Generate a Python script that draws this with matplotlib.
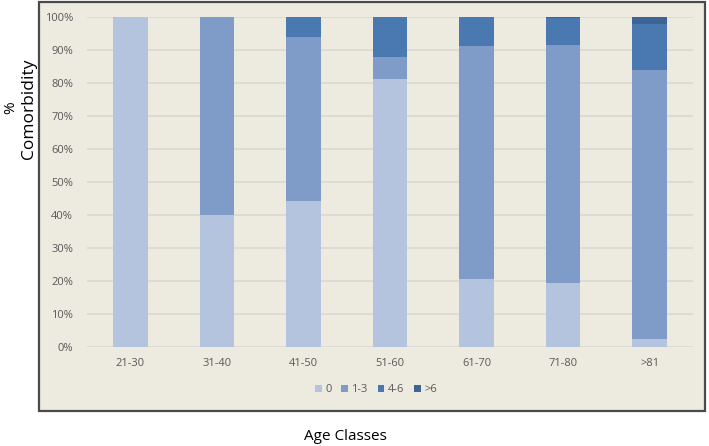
import matplotlib
matplotlib.use("Agg")
import matplotlib.pyplot as plt
from matplotlib.patches import Rectangle
import numpy as np

categories = ["21-30", "31-40", "41-50", "51-60", "61-70", "71-80", ">81"]
s0 = [100.0, 40.0, 44.2, 81.0, 20.5, 19.4, 2.3]
s13 = [0.0, 60.0, 49.6, 6.9, 70.5, 72.0, 81.6]
s46 = [0.0, 0.0, 6.2, 12.1, 9.0, 8.1, 13.8]
s6 = [0.0, 0.0, 0.0, 0.0, 0.0, 0.5, 2.3]
series_names = ["0", "1-3", "4-6", ">6"]
colors = ["#B4C4DF", "#7F9CC8", "#4A78B0", "#3C6497"]
yticks = list(range(0, 101, 10))

plt.rcParams['font.family'] = ['Open Sans', 'DejaVu Sans']

W, H = 709, 446
fig = plt.figure(figsize=(W / 100, H / 100), dpi=100)
fig.patch.set_facecolor("white")

# outer chart box
fig.patches.append(Rectangle((38.5 / W, 1 - 411 / H), (705 - 38.5) / W, (411 - 1.5) / H,
                             transform=fig.transFigure, facecolor="#EDEAE0",
                             edgecolor="#4A4A4A", linewidth=1.6, zorder=-5))

ax = fig.add_axes([87 / W, 1 - 346.7 / H, (693 - 87) / W, (346.7 - 16.7) / H])
ax.set_zorder(2)
ax.set_facecolor("none")
x = np.arange(len(categories))
bottom = np.zeros(len(categories))
for vals, name, c in zip([s0, s13, s46, s6], series_names, colors):
    ax.bar(x, vals, width=0.4, bottom=bottom, color=c, label=name, zorder=3)
    bottom += np.array(vals)

ax.set_xlim(-0.5, len(categories) - 0.5)
ax.set_ylim(0, 100)
ax.set_yticks(yticks)
ax.set_yticklabels([f"{v}%" for v in yticks])
ax.set_xticks(x)
ax.set_xticklabels(categories)
ax.grid(axis="y", color="#DAD8D2", linewidth=1.2, zorder=0)
ax.set_axisbelow(True)
for s in ax.spines.values():
    s.set_visible(False)
ax.tick_params(axis="both", length=0, labelsize=8, colors="#595959")
ax.tick_params(axis="x", pad=8)
ax.tick_params(axis="y", pad=10)

leg = fig.legend(loc="center", bbox_to_anchor=(376 / W, 1 - 390 / H), ncol=4,
                 frameon=False, fontsize=8, handlelength=0.6, handleheight=0.6,
                 handletextpad=0.3, columnspacing=0.9)
leg.set_zorder(3)
for t in leg.get_texts():
    t.set_color("#595959")

fig.text(11 / W, 1 - 108 / H, "%", rotation=90, ha="center", va="center", fontsize=11, color="black")
fig.text(29 / W, 1 - 109 / H, "Comorbidity", rotation=90, ha="center", va="center",
         fontsize=12.5, color="black")
fig.text(345 / W, 1 - 437 / H, "Age Classes", ha="center", va="center", fontsize=11, color="black")

fig.savefig("out.png", dpi=100, facecolor="white")
